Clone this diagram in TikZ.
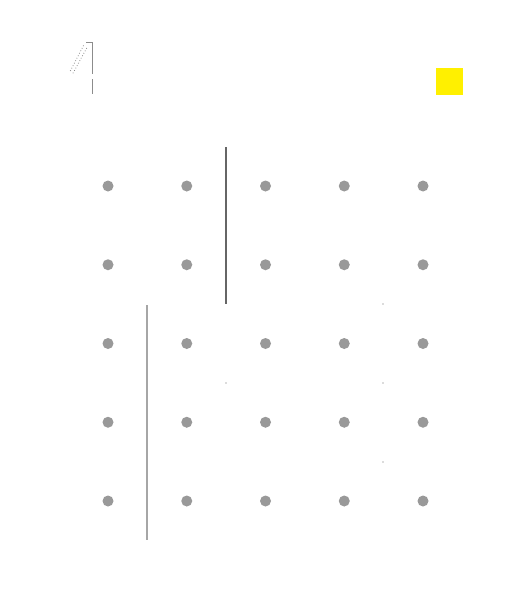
\documentclass[tikz,border=0pt]{standalone}
\usepackage{xcolor}
\usepackage{tikz}
\usetikzlibrary{positioning,calc}

\definecolor{dotgray}{HTML}{999999}
\definecolor{markyellow}{RGB}{255,240,0}

\begin{document}
\begin{tikzpicture}[x=1pt,y=-1pt,
        pin/.style={circle, fill=dotgray, inner sep=0pt, minimum size=11pt},
        speck/.style={circle, fill=black!60, inner sep=0pt, minimum size=1.2pt},
        divider/.style={line width=1.3pt},
        glyph/.style={draw=black!45, line width=0.8pt}
    ]
        \useasboundingbox (0,0) rectangle (531,610);
        % grid of pins
        \foreach \r in {1,...,5}{
            \foreach \c in {1,...,5}{
                \node[pin] (p\r\c) at ({108+78.75*(\c-1)},{186+78.75*(\r-1)}) {};
            }
        }
        % outlined numeral
        \draw[glyph, dotted] (70.3,71) -- (84.3,44);
        \draw[glyph, dotted] (73,73.3) -- (87,47.5);
        \draw[glyph] (86,42.7) -- (92.3,42.7) -- (92.3,74.3);
        \draw[glyph] (92.3,79.3) -- (92.3,94.3);
        % yellow marker
        \node[fill=markyellow, minimum size=27pt, inner sep=0pt] (mark) at (449.5,81.5) {};
        % dividers
        \coordinate (atop) at (226,147);
        \coordinate (abot) at (226,304);
        \coordinate (btop) at (147,305);
        \coordinate (bbot) at (147,540);
        \draw[divider, draw=black!60] (atop) -- (abot);
        \draw[divider, draw=black!35] (btop) -- (bbot);
        % specks
        \node[speck] (s1) at (383,304) {};
        \node[speck] (s2) at (383,383) {};
        \node[speck] (s3) at (383,462) {};
        \node[speck] (s4) at (226,383) {};
    \end{tikzpicture}
\end{document}
